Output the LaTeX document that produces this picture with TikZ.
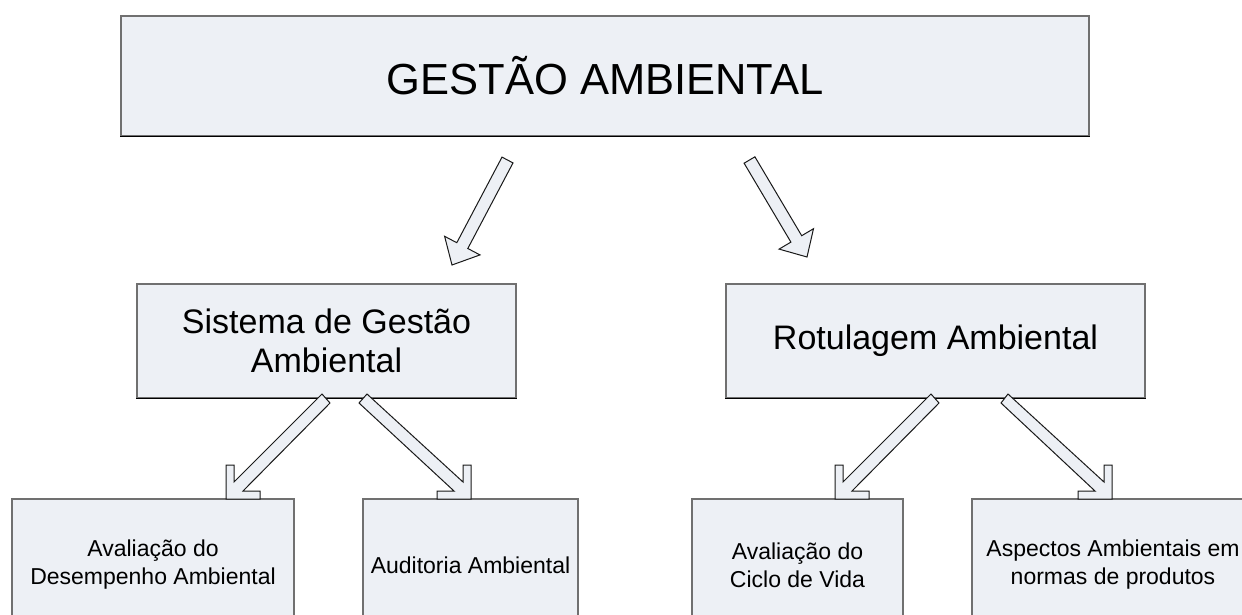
\documentclass[tikz,border=0pt]{standalone}
\usepackage{fontspec}
\setmainfont{Liberation Sans}
\definecolor{boxfill}{HTML}{EDF0F5}
\definecolor{boxline}{HTML}{707070}
\begin{document}
\begin{tikzpicture}[x=1pt,y=-1pt,
  box/.style={draw=boxline, fill=boxfill, line width=1.3pt, inner sep=0pt, align=center},
  boxbottom/.style={draw=black, line width=1.3pt},
  barrow/.style={draw=black!90, fill=boxfill, line width=1pt, line join=miter},
  bigtxt/.style={font=\fontsize{43.5}{50}\selectfont},
  midtxt/.style={font=\fontsize{34}{39}\selectfont},
  smalltxt/.style={font=\fontsize{23}{28}\selectfont}]
\useasboundingbox (0,0) rectangle (1242,614);
% boxes
\node[box, bigtxt, minimum width=968pt, minimum height=120pt] (top) at (605,76) {GESTÃO AMBIENTAL};
\node[box, midtxt, minimum width=379pt, minimum height=114pt] (sga) at (326.5,341) {Sistema de Gestão\\Ambiental};
\node[box, midtxt, minimum width=419pt, minimum height=114pt] (rot) at (935.5,341) {Rotulagem Ambiental};
\node[box, smalltxt, minimum width=282pt, minimum height=132pt] (ada) at (153,565) {Avaliação do\\Desempenho Ambiental};
\node[box, smalltxt, minimum width=215pt, minimum height=132pt] (aud) at (470.5,565) {Auditoria Ambiental};
\node[box, smalltxt, minimum width=211pt, minimum height=132pt] (acv) at (797.5,565) {Avaliação do\\Ciclo de Vida};
\node[box, smalltxt, minimum width=282pt, minimum height=132pt] (asp) at (1113,565) {Aspectos Ambientais em\\normas de produtos};
\foreach \b in {top,sga,rot}
  \draw[boxbottom] (\b.south west) -- (\b.south east);
% block arrows
\draw[barrow] (502,157.1) -- (513,162.9) -- (467.8,248.5) -- (480,254.9) -- (452,265)
  -- (444.6,236.3) -- (456.8,242.7) -- cycle;
\draw[barrow] (754.9,156.8) -- (744.1,163.2) -- (790.9,242.1) -- (779.1,249.1) -- (807,257)
  -- (813.5,228.7) -- (801.7,235.7) -- cycle;
\draw[barrow] (322,394) -- (330,403) -- (243,491) -- (260,491) -- (260,499) -- (226,499)
  -- (226,465) -- (234,465) -- (234,482) -- cycle;
\draw[barrow] (367,394) -- (359,403) -- (454,491) -- (437,491) -- (437,499) -- (471,499)
  -- (471,465) -- (463,465) -- (463,482) -- cycle;
\draw[barrow] (931,394) -- (939,403) -- (852,491) -- (869,491) -- (869,499) -- (835,499)
  -- (835,465) -- (843,465) -- (843,482) -- cycle;
\draw[barrow] (1008,394) -- (1001,403) -- (1095,491) -- (1078,491) -- (1078,499) -- (1112,499)
  -- (1112,465) -- (1104,465) -- (1104,482) -- cycle;
\end{tikzpicture}
\end{document}
